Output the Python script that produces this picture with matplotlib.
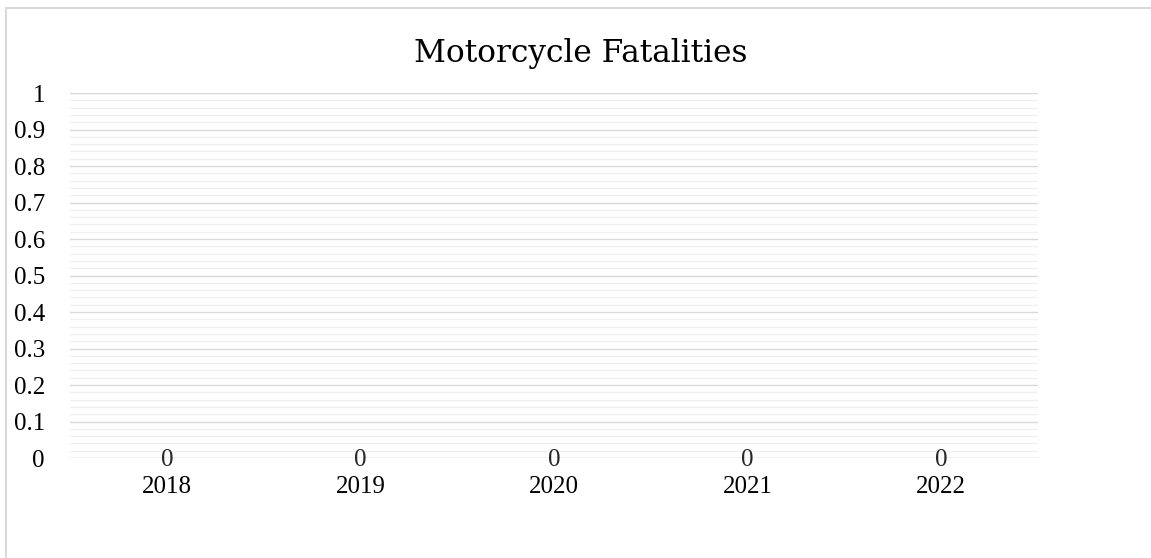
import matplotlib
matplotlib.use("Agg")
import matplotlib.pyplot as plt
from matplotlib.lines import Line2D
from matplotlib.ticker import MultipleLocator

#%% --- Data ---
years = ["2018", "2019", "2020", "2021", "2022"]
fatalities = [0, 0, 0, 0, 0]
ytick_values = [0, 0.1, 0.2, 0.3, 0.4, 0.5, 0.6, 0.7, 0.8, 0.9, 1]
ytick_labels = ["0", "0.1", "0.2", "0.3", "0.4", "0.5", "0.6", "0.7",
                "0.8", "0.9", "1"]

#%% --- Plot ---
plt.rcParams["font.family"] = ["Liberation Serif", "DejaVu Serif"]

fig = plt.figure(figsize=(11.51, 5.58), dpi=100)
ax = fig.add_axes([0.0608, 0.1792, 0.8410, 0.6541])

x = list(range(len(years)))
ax.bar(x, fatalities, width=0.6, color="#4472c4")

# data labels, sitting on the zero line
for xi, v in zip(x, fatalities):
    ax.annotate(str(v), (xi, v), xytext=(0, -1.5), textcoords="offset points",
                ha="center", va="center", fontsize=18, color="#262626")

ax.set_xlim(-0.5, len(years) - 0.5)
ax.set_ylim(0, 1)
ax.yaxis.set_minor_locator(MultipleLocator(0.02))
ax.set_yticks(ytick_values)
ax.set_yticklabels(ytick_labels)
ax.set_xticks(x)
ax.set_xticklabels(years)

ax.grid(axis="y", which="major", color="#d9d9d9", linewidth=1.0)
ax.grid(axis="y", which="minor", color="#f0f0f0", linewidth=1.0)
ax.set_axisbelow(True)

for s in ax.spines.values():
    s.set_visible(False)
ax.axhline(0, color="#d9d9d9", linewidth=1.0, zorder=0.5)

ax.tick_params(axis="both", which="both", length=0, labelsize=18,
               labelcolor="black")
ax.tick_params(axis="y", pad=18)
ax.tick_params(axis="x", pad=13)

# title centred over the whole chart area
fig.text(581 / 1151, 1 - 62 / 558, "Motorcycle Fatalities",
         ha="center", va="baseline", fontsize=22.5, family="DejaVu Serif")

# chart frame (cropped: top and left only)
fig.add_artist(Line2D([5.5 / 1151, 1], [1 - 7.5 / 558] * 2,
                      transform=fig.transFigure, color="#d9d9d9", linewidth=1.5))
fig.add_artist(Line2D([5.5 / 1151] * 2, [0, 1 - 7.5 / 558],
                      transform=fig.transFigure, color="#d9d9d9", linewidth=1.5))

fig.savefig("out.png", dpi=100)
